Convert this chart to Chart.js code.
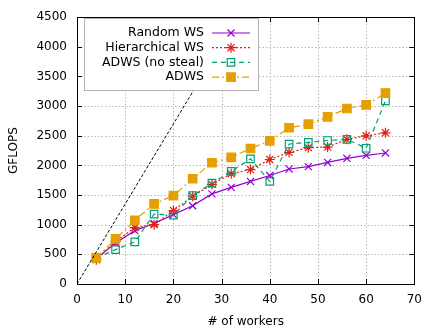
<!DOCTYPE html>
<html>
<head>
<meta charset="utf-8">
<script src="https://cdn.jsdelivr.net/npm/chart.js@4/dist/chart.umd.min.js"></script>
<style>
  html, body { margin: 0; padding: 0; background: #fff; }
  #wrap { width: 431px; height: 330px; }
</style>
</head>
<body>
<div id="wrap"><canvas id="myChart" width="431" height="330"></canvas></div>
<script>
// data
const workers = [4, 8, 12, 16, 20, 24, 28, 32, 36, 40, 44, 48, 52, 56, 60, 64];
const randomWS = [430, 690, 900, 1020, 1170, 1320, 1520, 1630, 1730, 1830, 1940, 1980, 2050, 2120, 2170, 2210];
const hierWS = [410, 720, 950, 1000, 1240, 1480, 1680, 1860, 1930, 2100, 2220, 2300, 2310, 2440, 2500, 2550];
const adwsNoSteal = [440, 580, 710, 1180, 1160, 1490, 1700, 1900, 2110, 1730, 2360, 2390, 2420, 2440, 2290, 3090];
const adws = [440, 760, 1075, 1350, 1490, 1775, 2045, 2135, 2285, 2415, 2635, 2695, 2820, 2960, 3020, 3220];
// ideal (linear) scaling line
const idealX = [0, 70];
const idealY = [0, 9450];

const xTicks = [0, 10, 20, 30, 40, 50, 60, 70];
const yTicks = [0, 500, 1000, 1500, 2000, 2500, 3000, 3500, 4000, 4500];

function pts(xs, ys) {
	return xs.map((x, i) => ({x: x, y: ys[i]}));
}

Chart.defaults.font.family = "'DejaVu Sans', sans-serif";
Chart.defaults.font.size = 12;
Chart.defaults.color = '#000';

const series = [
	{label: 'Random WS', data: randomWS, color: '#9400d3', dash: [], style: 'crossRot', r: 5, fill: false},
	{label: 'Hierarchical WS', data: hierWS, color: '#e51e10', dash: [2, 2], style: 'star', r: 5, fill: false},
	{label: 'ADWS (no steal)', data: adwsNoSteal, color: '#009e73', dash: [5, 4], style: 'rect', r: 5.3, fill: false},
	{label: 'ADWS', data: adws, color: '#e69f00', dash: [7, 3, 2, 3], style: 'rect', r: 6, fill: true}
];

let datasets = series.map((s, i) => ({
	label: s.label,
	data: pts(workers, s.data),
	borderColor: s.color,
	backgroundColor: s.fill ? s.color : 'rgba(0,0,0,0)',
	pointBorderColor: s.color,
	pointBackgroundColor: s.fill ? s.color : 'rgba(0,0,0,0)',
	borderWidth: 1.2,
	pointBorderWidth: 1.2,
	borderDash: s.dash,
	pointStyle: s.style,
	pointRadius: s.r,
	pointHoverRadius: s.r,
	tension: 0,
	order: 4 - i
}));

datasets.push({
	label: 'ideal',
	data: pts(idealX, idealY),
	borderColor: '#000',
	borderWidth: 1,
	borderDash: [3, 2],
	pointRadius: 0,
	tension: 0,
	order: 0
});

function marker(ctx, s, x, y) {
	ctx.save();
	ctx.setLineDash([]);
	ctx.strokeStyle = s.color;
	ctx.fillStyle = s.color;
	ctx.lineWidth = 1.2;
	const r = s.r;
	ctx.beginPath();
	if (s.style === 'rect') {
		const h = r * Math.SQRT1_2;
		if (s.fill) { ctx.fillRect(x - h, y - h, 2 * h, 2 * h); }
		ctx.rect(x - h, y - h, 2 * h, 2 * h);
	} else {
		const o = r * Math.SQRT1_2;
		ctx.moveTo(x - o, y - o); ctx.lineTo(x + o, y + o);
		ctx.moveTo(x - o, y + o); ctx.lineTo(x + o, y - o);
		if (s.style === 'star') {
			ctx.moveTo(x - r, y); ctx.lineTo(x + r, y);
			ctx.moveTo(x, y - r); ctx.lineTo(x, y + r);
		}
	}
	ctx.stroke();
	ctx.restore();
}

// dotted grid, frame, inward ticks and the boxed legend, gnuplot style
const gnuplotBits = {
	id: 'gnuplotBits',
	beforeDatasetsDraw(chart) {
		const ctx = chart.ctx;
		const a = chart.chartArea;
		const xs = chart.scales.x, ys = chart.scales.y;
		ctx.save();
		ctx.strokeStyle = '#b8b8b8';
		ctx.lineWidth = 1;
		ctx.setLineDash([1.5, 2]);
		ctx.beginPath();
		xTicks.forEach(v => {
			const px = Math.round(xs.getPixelForValue(v)) + 0.5;
			ctx.moveTo(px, a.bottom); ctx.lineTo(px, a.top);
		});
		yTicks.forEach(v => {
			const py = Math.round(ys.getPixelForValue(v)) + 0.5;
			ctx.moveTo(a.left, py); ctx.lineTo(a.right, py);
		});
		ctx.stroke();
		ctx.restore();
	},
	afterDatasetsDraw(chart) {
		const ctx = chart.ctx;
		const a = chart.chartArea;
		const xs = chart.scales.x, ys = chart.scales.y;
		ctx.save();
		ctx.strokeStyle = '#000';
		ctx.lineWidth = 1;
		ctx.setLineDash([]);
		ctx.beginPath();
		xTicks.forEach(v => {
			const px = Math.round(xs.getPixelForValue(v)) + 0.5;
			ctx.moveTo(px, a.bottom); ctx.lineTo(px, a.bottom - 5);
			ctx.moveTo(px, a.top); ctx.lineTo(px, a.top + 5);
		});
		yTicks.forEach(v => {
			const py = Math.round(ys.getPixelForValue(v)) + 0.5;
			ctx.moveTo(a.left, py); ctx.lineTo(a.left + 5, py);
			ctx.moveTo(a.right, py); ctx.lineTo(a.right - 5, py);
		});
		ctx.stroke();
		ctx.strokeRect(Math.round(a.left) + 0.5, Math.round(a.top) + 0.5, Math.round(a.right - a.left), Math.round(a.bottom - a.top));

		// legend
		const bx = 84.5, by = 18.5, bw = 174, bh = 72;
		ctx.fillStyle = '#fff';
		ctx.fillRect(bx, by, bw, bh);
		ctx.strokeStyle = '#b4b4b4';
		ctx.strokeRect(bx, by, bw, bh);
		ctx.font = "12.5px 'DejaVu Sans', sans-serif";
		ctx.textAlign = 'right';
		ctx.textBaseline = 'middle';
		series.forEach((s, i) => {
			const y = 33 + i * 14.7;
			ctx.fillStyle = '#000';
			ctx.fillText(s.label, 204, y);
			ctx.strokeStyle = s.color;
			ctx.lineWidth = 1.2;
			ctx.setLineDash(s.dash);
			ctx.beginPath();
			ctx.moveTo(212, y); ctx.lineTo(250, y);
			ctx.stroke();
			marker(ctx, s, 231, y);
		});
		ctx.restore();
	}
};

const myChart = new Chart(document.getElementById('myChart'), {
	type: 'line',
	data: {datasets: datasets},
	plugins: [gnuplotBits],
	options: {
		responsive: false,
		animation: false,
		events: [],
		layout: {padding: {left: 0, right: 10, top: 14, bottom: 0}},
		plugins: {legend: {display: false}, tooltip: {enabled: false}},
		scales: {
			x: {
				type: 'linear',
				min: 0, max: 70,
				afterFit: s => { s.height = 46; },
				afterBuildTicks: s => { s.ticks = xTicks.map(v => ({value: v})); },
				ticks: {padding: 9, maxRotation: 0, autoSkip: false, callback: v => String(v)},
				grid: {display: false, drawTicks: false},
				border: {display: false},
				title: {display: true, text: '# of workers', padding: {top: 0, bottom: 1}}
			},
			y: {
				min: 0, max: 4500,
				afterFit: s => { s.width = 77; },
				afterBuildTicks: s => { s.ticks = yTicks.map(v => ({value: v})); },
				ticks: {padding: 10, autoSkip: false, callback: v => String(v)},
				grid: {display: false, drawTicks: false},
				border: {display: false},
				title: {display: true, text: 'GFLOPS', padding: {top: 7, bottom: 0}}
			}
		}
	}
});
</script>
</body>
</html>
